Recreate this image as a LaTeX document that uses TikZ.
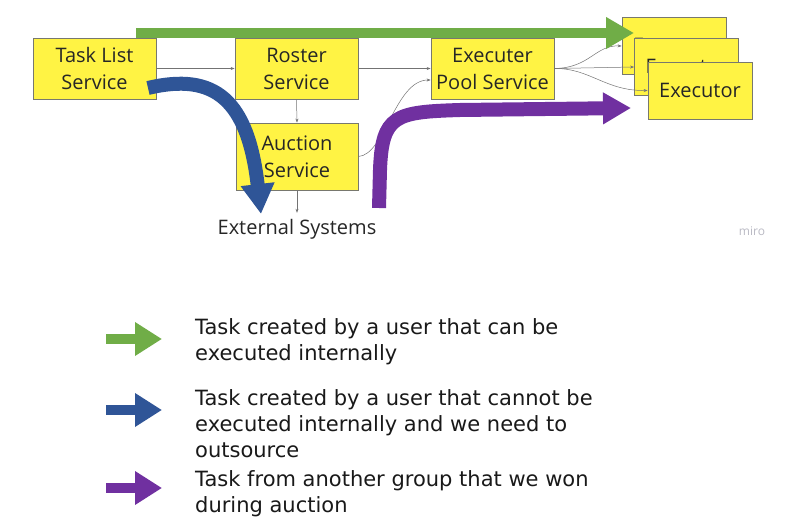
\documentclass[tikz,border=0pt]{standalone}
\usepackage{fontspec}
\setmainfont{Open Sans}
\newfontfamily\legfont{DejaVu Sans}
\usetikzlibrary{arrows.meta}
\definecolor{boxyellow}{RGB}{255,243,68}
\definecolor{boxborder}{RGB}{120,120,110}
\definecolor{agreen}{RGB}{112,173,71}
\definecolor{ablue}{RGB}{47,85,151}
\definecolor{apurple}{RGB}{112,48,160}
\definecolor{mirogray}{RGB}{185,185,195}
\tikzset{
  svc/.style={draw=boxborder, line width=0.8pt, fill=boxyellow, minimum width=123pt, minimum height=61pt, inner sep=0pt, align=center, font=\fontsize{20}{27}\selectfont, text=black!85},
  exc/.style={draw=boxborder, line width=0.8pt, fill=boxyellow, minimum width=104pt, minimum height=57pt, inner sep=0pt, align=center, font=\fontsize{20}{27}\selectfont, text=black!85},
  thin/.style={draw=black!55, line width=0.5pt, -{Stealth[length=4pt,width=3pt]}},
  big/.style={line width=#1, line cap=butt},
  legtxt/.style={anchor=north west, align=left, inner sep=0pt, font=\legfont\fontsize{21}{26}\selectfont, text=black!90}
}
\begin{document}
\begin{tikzpicture}[x=1pt,y=-1pt]
\useasboundingbox (0,0) rectangle (789,526);
% boxes
\node[svc] (tl) at (94.5,68.5) {Task List\\Service};
\node[svc] (rs) at (296.5,68.5) {Roster\\Service};
\node[svc] (ep) at (492.5,68.5) {Executer\\Pool Service};
\node[svc, minimum height=67pt, minimum width=122pt] (as) at (297,156.5) {Auction\\Service};
\node[font=\fontsize{20}{24}\selectfont, text=black!85, inner sep=0pt] (ext) at (297,229) {External Systems};
\node[exc] (e1) at (674,45.5) {Executor};
\node[exc] (e2) at (686.5,66.5) {Executor};
\node[exc] (e3) at (700,90.5) {Executor};
\node[font=\fontsize{12}{14}\selectfont, text=mirogray] (miro) at (752,231) {miro};
% thin connectors
\draw[thin] (tl.east) -- (rs.west);
\draw[thin] (rs.east) -- (ep.west);
\draw[thin] (rs.south) -- (as.north);
\draw[thin] (as.south) -- ([yshift=6pt]ext.north);
\draw[thin] (as.east) .. controls (385,155) and (395,80) .. ([yshift=-11.5pt]ep.west);
\draw[thin] (ep.east) .. controls (590,68) and (595,45) .. ([yshift=-0.5pt]e1.west);
\draw[thin] (ep.east) -- ([yshift=-0.5pt]e2.west);
\draw[thin] (ep.east) .. controls (590,68) and (605,91) .. (e3.west);
% big arrows
\coordinate (gs) at (136,33);
\coordinate (ge) at (634,33);
\draw[big=10pt, agreen, -{Triangle[width=30pt,length=28pt]}] (gs) -- (ge);
\coordinate (bs) at (148,88);
\coordinate (be) at (261,214);
\draw[big=14pt, ablue, -{Triangle[width=32pt,length=30pt]}] (bs) .. controls (215,72) and (248,100) .. (be);
\coordinate (ps) at (379,208);
\coordinate (pe) at (631,108);
\draw[big=14pt, apurple, -{Triangle[width=30pt,length=28pt]}] (ps) -- (380,170) .. controls (382,115) and (395,112) .. (460,110) -- (pe);
% legend
\coordinate (l1s) at (106,339); \coordinate (l1e) at (162,339);
\coordinate (l2s) at (106,410); \coordinate (l2e) at (162,410);
\coordinate (l3s) at (106,488); \coordinate (l3e) at (162,488);
\draw[big=10pt, agreen, -{Triangle[width=32pt,length=27pt]}] (l1s) -- (l1e);
\draw[big=10pt, ablue, -{Triangle[width=32pt,length=27pt]}] (l2s) -- (l2e);
\draw[big=10pt, apurple, -{Triangle[width=32pt,length=27pt]}] (l3s) -- (l3e);
\node[legtxt] (t1) at (195,318) {Task created by a user that can be\\executed internally};
\node[legtxt] (t2) at (195,389) {Task created by a user that cannot be\\executed internally and we need to\\outsource};
\node[legtxt] (t3) at (195,470) {Task from another group that we won\\during auction};
\end{tikzpicture}
\end{document}
